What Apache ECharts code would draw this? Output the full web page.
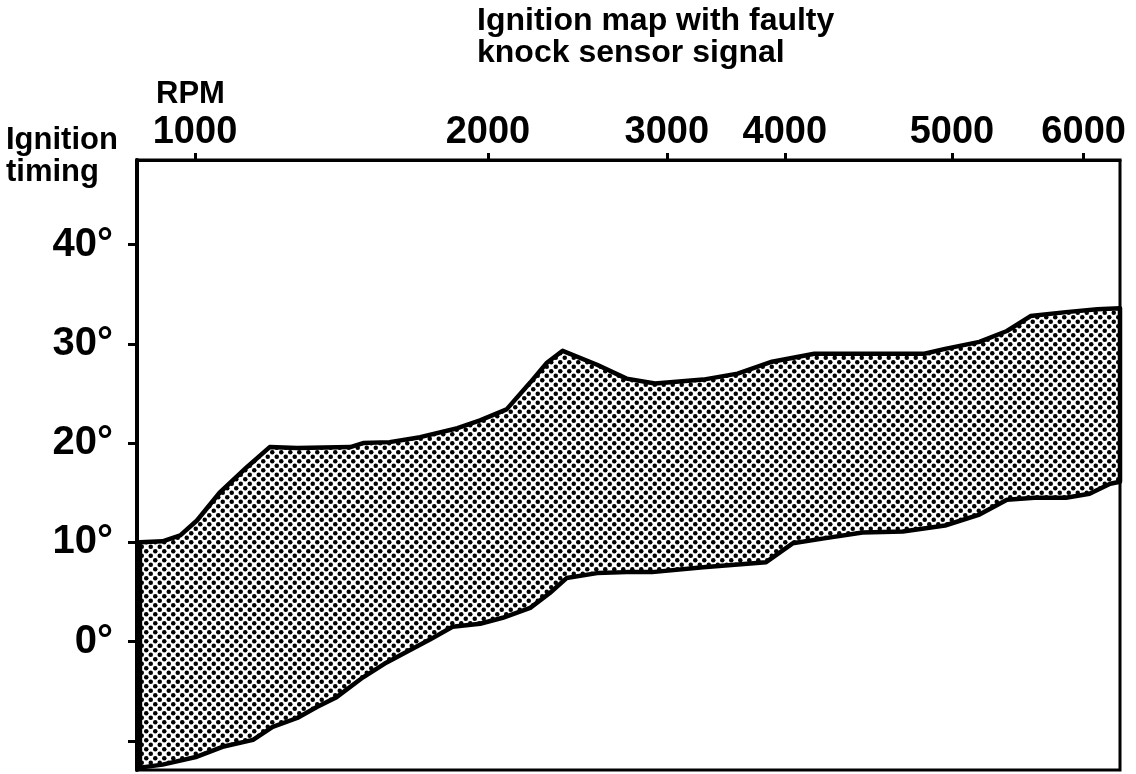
<!DOCTYPE html>
<html>
<head>
<meta charset="utf-8">
<script src="https://cdn.jsdelivr.net/npm/echarts@6/dist/echarts.min.js"></script>
<style>
html,body{margin:0;padding:0;background:#fff;}
#chart{width:1136px;height:774px;}
</style>
</head>
<body>
<div id="chart"></div>
<script>
// X axis is an irregular RPM scale: x values are positions along the axis (0–100)
const rpmTickPos = [5.9, 35.7, 53.9, 65.9, 82.9, 96.3];
const rpmTickLabels = ['1000', '2000', '3000', '4000', '5000', '6000'];
const degTicks = [-10, 0, 10, 20, 30, 40];
const degLabels = [0, 10, 20, 30, 40];

// Upper boundary of the ignition-timing band (degrees)
const upperX = [0.3, 2.6, 4.4, 6.1, 8.4, 11.2, 13.5, 16.3, 21.7, 23.0, 25.7, 28.8, 32.6, 34.9, 37.6, 40.0, 41.7, 43.3, 46.8, 49.8, 52.7, 57.6, 61.1, 64.6, 68.9, 80.1, 82.2, 85.7, 88.5, 90.9, 94.5, 97.7, 100];
const upperY = [10.0, 10.1, 10.7, 12.2, 15.0, 17.6, 19.6, 19.5, 19.6, 20.0, 20.1, 20.6, 21.5, 22.3, 23.4, 26.1, 28.1, 29.3, 27.9, 26.5, 26.0, 26.4, 27.0, 28.2, 29.0, 29.0, 29.5, 30.2, 31.3, 32.8, 33.2, 33.5, 33.6];

// Lower boundary of the band (degrees)
const lowerX = [0.3, 2.6, 6.1, 8.7, 11.8, 13.8, 16.3, 18.3, 20.3, 23.0, 25.4, 27.5, 29.8, 32.1, 34.9, 37.2, 40.0, 42.0, 43.7, 46.8, 49.8, 52.4, 57.6, 64.0, 66.7, 69.9, 73.8, 77.9, 82.2, 85.7, 88.5, 91.3, 94.5, 96.9, 99.0, 100];
const lowerY = [-12.7, -12.4, -11.6, -10.6, -9.9, -8.6, -7.7, -6.6, -5.6, -3.6, -2.1, -1.0, 0.2, 1.5, 1.8, 2.4, 3.4, 4.9, 6.4, 6.9, 7.0, 7.0, 7.5, 8.0, 9.9, 10.4, 11.0, 11.1, 11.7, 12.8, 14.3, 14.5, 14.5, 14.9, 15.9, 16.1];

const upper = upperX.map((x, i) => [x, upperY[i]]);
const lower = lowerX.map((x, i) => [x, lowerY[i]]);

// dotted fill pattern
const T = 9;
const pc = document.createElement('canvas');
pc.width = T; pc.height = T;
const pctx = pc.getContext('2d');
pctx.fillStyle = '#fff';
pctx.fillRect(0, 0, T, T);
pctx.fillStyle = '#000';
[[2.25, 2.25], [6.75, 6.75]].forEach(([cx, cy]) => {
  pctx.beginPath(); pctx.arc(cx, cy, 2.25, 0, Math.PI * 2); pctx.fill();
});
const pattern = { image: pc, repeat: 'repeat' };

const FONT = "'Liberation Sans', Arial, Helvetica, sans-serif";

const chart = echarts.init(document.getElementById('chart'), null, { renderer: 'canvas' });
chart.setOption({
  animation: false,
  backgroundColor: '#fff',
  title: [
    { text: 'Ignition map with faulty\nknock sensor signal', left: 472, top: 0,
      textStyle: { fontFamily: FONT, fontSize: 32, fontWeight: 'bold', color: '#000', lineHeight: 32 } },
    { text: 'RPM', left: 151, top: 74,
      textStyle: { fontFamily: FONT, fontSize: 31, fontWeight: 'bold', color: '#000' } },
    { text: 'Ignition\ntiming', left: 1, top: 119,
      textStyle: { fontFamily: FONT, fontSize: 31, fontWeight: 'bold', color: '#000', lineHeight: 32 } }
  ],
  grid: { left: 137, right: 16, top: 160, bottom: 4, show: true, borderColor: '#000', borderWidth: 3, backgroundColor: 'transparent' },
  xAxis: {
    type: 'value', position: 'top', min: 0, max: 100,
    axisLine: { show: true, onZero: false, lineStyle: { color: '#000', width: 3 } },
    axisTick: { show: true, customValues: rpmTickPos, length: 7, inside: false, lineStyle: { color: '#000', width: 3 } },
    axisLabel: {
      show: true, customValues: rpmTickPos, margin: 8,
      formatter: v => { const i = rpmTickPos.findIndex(p => Math.abs(p - v) < 1e-6); return i >= 0 ? rpmTickLabels[i] : ''; },
      fontFamily: FONT, fontSize: 38, fontWeight: 'bold', color: '#000'
    },
    splitLine: { show: false }
  },
  yAxis: {
    type: 'value', min: -12.94, max: 48.53,
    axisLine: { show: true, onZero: false, lineStyle: { color: '#000', width: 4 } },
    axisTick: { show: true, customValues: degTicks, length: 9, lineStyle: { color: '#000', width: 3 } },
    axisLabel: {
      show: true, customValues: degLabels, margin: 24,
      formatter: v => v + '°',
      fontFamily: FONT, fontSize: 40, fontWeight: 'bold', color: '#000'
    },
    splitLine: { show: false }
  },
  series: [{
    type: 'custom',
    coordinateSystem: 'cartesian2d',
    clip: false,
    data: [[0, 0]],
    renderItem: (params, api) => {
      const pts = upper.map(p => api.coord(p)).concat(lower.slice().reverse().map(p => api.coord(p)));
      return {
        type: 'polygon',
        shape: { points: pts },
        style: { fill: pattern, stroke: '#000', lineWidth: 4.5, lineJoin: 'round' }
      };
    }
  }]
});
</script>
</body>
</html>
